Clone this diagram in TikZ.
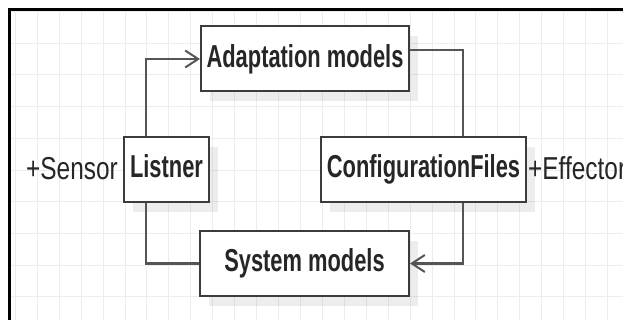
\documentclass[tikz,border=0pt]{standalone}
\usepackage{fontspec}
\newfontfamily\boxfont{Liberation Sans}[FakeStretch=0.69]
\newfontfamily\labelfont{Liberation Sans}[FakeStretch=0.77]
\usetikzlibrary{arrows.meta,shadows}

\definecolor{gridgray}{HTML}{EDEDED}
\definecolor{boxline}{HTML}{3C3C3C}
\definecolor{wire}{HTML}{555555}

\tikzset{
  model/.style={draw=boxline, line width=2pt, fill=white, inner sep=0pt,
    minimum height=65pt, text=black!85,
    font=\boxfont\bfseries\fontsize{31.7}{38}\selectfont,
    text height=22.7pt, text depth=6.6pt,
    drop shadow={shadow xshift=9pt, shadow yshift=-10pt, fill=black, opacity=0.07}},
  port/.style={inner sep=0pt, text=black!85,
    font=\labelfont\fontsize{31.7}{38}\selectfont},
  link/.style={draw=wire, line width=2.2pt},
  opentip/.style={-{Straight Barb[length=13pt,width=17pt,line width=2pt]}}
}

\begin{document}
\begin{tikzpicture}[x=1pt,y=-1pt]
        \useasboundingbox (0,0) rectangle (623,320);
        \fill[white] (0,0) rectangle (623,320);

        % grid
        \foreach \gx in {15.4,37.33,...,623}
          \draw[gridgray, line width=1pt] (\gx,10) -- (\gx,320);
        \foreach \gy in {11.6,43.3,...,320}
          \draw[gridgray, line width=1pt] (10,\gy) -- (623,\gy);

        % frame
        \draw[black, line width=2.6pt] (9.5,320) -- (9.5,9.5) -- (623,9.5);

        \node[model, minimum width=208pt] (adapt) at (305,59) {Adaptation models};
        \node[model, minimum width=85pt] (listner) at (166.5,169.5) {Listner};
        \node[model, minimum width=205pt] (config) at (423.5,169.5) {ConfigurationFiles};
        \node[model, minimum width=209pt] (sysm) at (304.5,263.5) {System models};

        \node[port, anchor=base east] (sensor) at (118,180) {+Sensor};
        \node[port, anchor=base west] (effector) at (528,180) {+Effector};

        \draw[link, opentip] ([xshift=-20.5pt]listner.north) |- (adapt.west);
        \draw[link] ([yshift=9pt]adapt.east) -| ([xshift=39.5pt]config.north);
        \draw[link] ([xshift=-20.5pt]listner.south) |- (sysm.west);
        \draw[link, opentip] ([xshift=39.5pt]config.south) |- (sysm.east);
      \end{tikzpicture}
\end{document}
